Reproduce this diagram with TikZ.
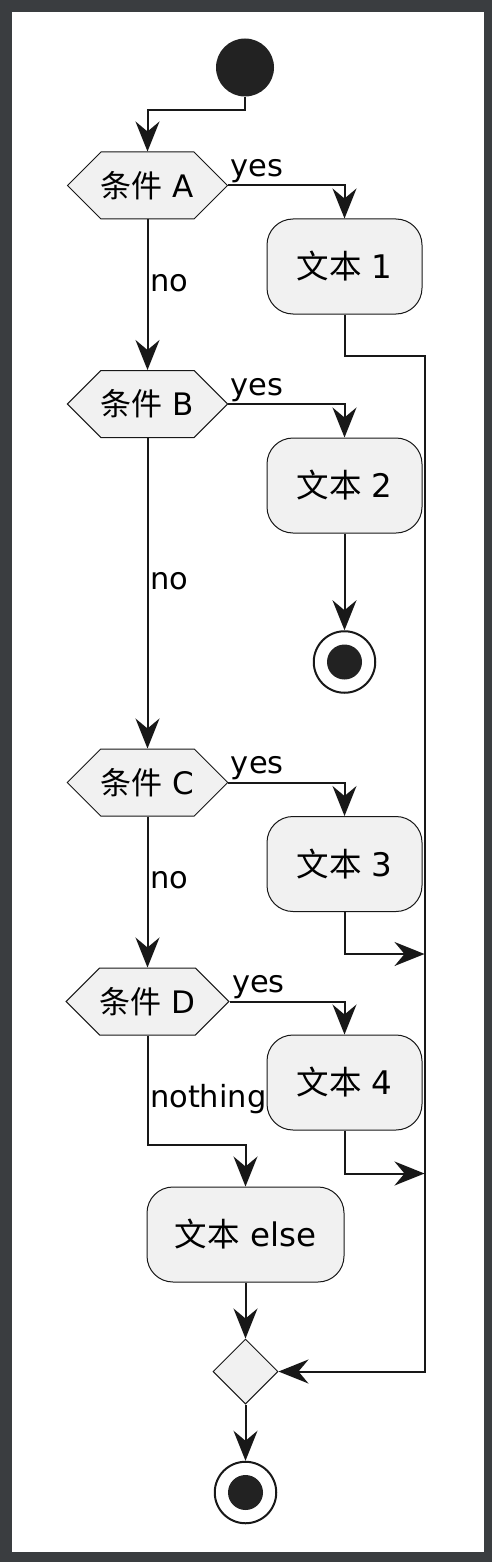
\documentclass[tikz,border=0pt]{standalone}
\usepackage{fontspec}
\setmainfont{DejaVu Sans}
\newfontfamily\cjk{Noto Sans CJK SC}
\usetikzlibrary{positioning,shapes.symbols,shapes.geometric,arrows.meta}
\definecolor{umlframe}{HTML}{3A3D40}
\definecolor{umlfill}{HTML}{F1F1F1}
\definecolor{umlline}{HTML}{181818}
\definecolor{umldot}{HTML}{222222}

\begin{document}
\begin{tikzpicture}[x=1pt,y=1pt,node distance=100pt,on grid,
	cond/.style={signal,signal to=west and east,signal pointer angle=90,draw=umlline,fill=umlfill,line width=1pt,minimum width=159pt,minimum height=67pt,inner sep=0pt,font=\fontsize{31}{36}\selectfont},
	act/.style={rectangle,rounded corners=26pt,draw=umlline,fill=umlfill,line width=1pt,minimum width=155pt,minimum height=95pt,font=\fontsize{32.5}{38}\selectfont},
	mergebox/.style={diamond,draw=umlline,fill=umlfill,line width=1pt,minimum size=65pt,inner sep=0pt},
	startdot/.style={circle,fill=umldot,minimum size=58pt,inner sep=0pt},
	stopdot/.style={circle,draw=umlline,line width=2pt,fill=white,minimum size=61.5pt,inner sep=0pt,
		path picture={\fill[umldot] (path picture bounding box.center) circle (17.5pt);}},
	flow/.style={draw=umlline,line width=2pt,-{Stealth[length=30pt,width=24pt,inset=10pt]}},
	lbl/.style={font=\fontsize{30.5}{35}\selectfont,inner sep=1.5pt}]
	\fill[umlframe] (0,0) rectangle (492,-1562);
	\fill[white] (12,-12) rectangle (484,-1552);

	\node[startdot] (start) at (245,-67.5) {};
	\node[cond,below left=118pt and 97.5pt of start] (condA) {{\cjk 条件} A};
	\node[act,below right=81pt and 197pt of condA] (txt1) {{\cjk 文本} 1};
	\node[cond,minimum width=153pt,below=218.5pt of condA] (condB) {{\cjk 条件} B};
	\node[act,below right=81.5pt and 197pt of condB] (txt2) {{\cjk 文本} 2};
	\node[stopdot,below=176.5pt of txt2] (stop2) {};
	\node[cond,below=378.5pt of condB] (condC) {{\cjk 条件} C};
	\node[act,below right=81.5pt and 197pt of condC] (txt3) {{\cjk 文本} 3};
	\node[cond,below=219pt of condC] (condD) {{\cjk 条件} D};
	\node[act,below right=81pt and 197pt of condD] (txt4) {{\cjk 文本} 4};
	\node[act,minimum width=197pt,below right=233pt and 98pt of condD] (txtElse) {{\cjk 文本} else};
	\node[mergebox,below=137pt of txtElse] (mrg) {};
	\node[stopdot,below=121pt of mrg] (stopF) {};
	\coordinate[right=146pt of mrg.east] (rail);
	\coordinate[below=42pt of txt3.south] (j3);
	\coordinate[below=43pt of txt4.south] (j4);

	\draw[flow] (start.south) -- ++(0,-13) -| (condA.north);
	\draw[flow] (condA.east) -| node[lbl,anchor=south west,pos=0] {yes} (txt1.north);
	\draw[flow] (condA.south) -- node[lbl,anchor=west,pos=0.42] {no} (condB.north);
	\draw[flow] (txt1.south) -- ++(0,-41.5) -| (rail) -- (mrg.east);
	\draw[flow] (condB.east) -| node[lbl,anchor=south west,pos=0] {yes} (txt2.north);
	\draw[flow] (txt2.south) -- (stop2.north);
	\draw[flow] (condB.south) -- node[lbl,anchor=west,pos=0.46] {no} (condC.north);
	\draw[flow] (condC.east) -| node[lbl,anchor=south west,pos=0] {yes} (txt3.north);
	\draw[flow] (txt3.south) -- (j3) -- (j3 -| rail);
	\draw[flow] (condC.south) -- node[lbl,anchor=west,pos=0.42] {no} (condD.north);
	\draw[flow] (condD.east) -| node[lbl,anchor=south west,pos=0] {yes} (txt4.north);
	\draw[flow] (txt4.south) -- (j4) -- (j4 -| rail);
	\draw[flow] (condD.south) -- node[lbl,anchor=west,pos=0.58] {nothing} ++(0,-109) -| (txtElse.north);
	\draw[flow] (txtElse.south) -- (mrg.north);
	\draw[flow] (mrg.south) -- (stopF.north);
\end{tikzpicture}
\end{document}
